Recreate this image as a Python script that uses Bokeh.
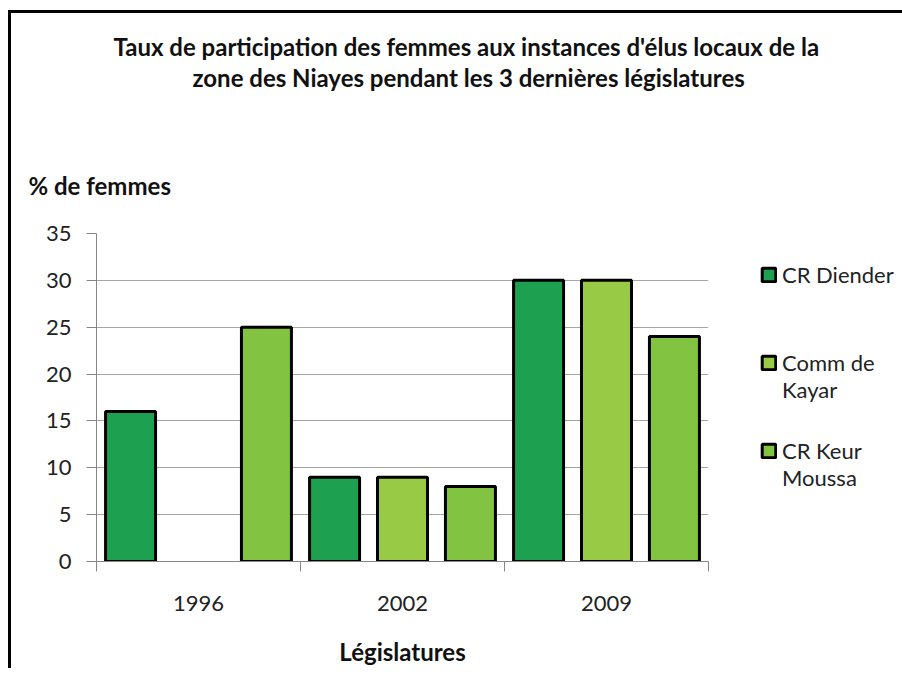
from bokeh.plotting import figure
from bokeh.models import (Range1d, LinearAxis, FixedTicker, Title, Legend, LegendItem,
                          ColumnDataSource)
from bokeh.embed import file_html
from bokeh.resources import INLINE

# ---------------- data ----------------
years = ["1996", "2002", "2009"]
series_names = ["CR Diender", "Comm de Kayar", "CR Keur Moussa"]
ZW = "\u200b"
legend_labels = [ZW + "\nCR Diender\n" + ZW, ZW + "\nComm de\nKayar", ZW + "\nCR Keur\nMoussa"]
cr_diender = [16, 9, 30]
comm_de_kayar = [float("nan"), 9, 30]
cr_keur_moussa = [25, 8, 24]
y_ticks = [0, 5, 10, 15, 20, 25, 30, 35]
title_line1 = "Taux de participation des femmes aux instances d'élus locaux de la"
title_line2 = "zone des Niayes pendant les 3 dernières législatures"
y_title = "\n% de femmes"
x_title = "Législatures"

colors = ["#1DA050", "#98CA45", "#83C342"]
FONT = "Lato"
TXT = "#222222"
GRID = "#A6A6A6"
AXIS = "#868686"

n = len(years)
centers = [i + 0.5 for i in range(n)]
offsets = [-0.333, 0.0, 0.333]
series_values = [cr_diender, comm_de_kayar, cr_keur_moussa]

p = figure(x_range=Range1d(0, n), y_range=Range1d(0, 35),
           frame_width=612, frame_height=328,
           min_border_left=85, min_border_right=183, min_border_top=220, min_border_bottom=107,
           output_backend="svg", toolbar_location=None, x_axis_location=None,
           background_fill_color="white", border_fill_color="white")
p.outline_line_color = None
p.styles = {"border-left": "3px solid black", "border-top": "3px solid black",
            "margin-top": "10px", "margin-left": "8px"}

# y axis
ya = p.yaxis[0]
ya.ticker = FixedTicker(ticks=y_ticks)
ya.major_tick_out = 10
ya.major_tick_in = 0
ya.minor_tick_line_color = None
ya.axis_line_color = AXIS
ya.major_tick_line_color = AXIS
ya.major_label_standoff = 15
ya.major_label_text_font = FONT
ya.major_label_text_font_size = "22px"
ya.major_label_text_color = TXT

p.ygrid.ticker = FixedTicker(ticks=y_ticks)
p.ygrid.grid_line_color = GRID
p.xgrid.visible = False

# x axis: boundary ticks + category labels
tick_axis = LinearAxis(ticker=FixedTicker(ticks=list(range(n + 1))),
                       major_tick_out=10, major_tick_in=0, minor_tick_line_color=None,
                       axis_line_color=AXIS, major_tick_line_color=AXIS,
                       major_label_text_font_size="0px", major_label_standoff=0)
p.add_layout(tick_axis, "below")
cat_axis = LinearAxis(ticker=FixedTicker(ticks=centers),
                      major_label_overrides={c: y for c, y in zip(centers, years)},
                      axis_line_color=None, major_tick_line_color=None,
                      minor_tick_line_color=None,
                      major_label_text_font=FONT, major_label_text_font_size="22px",
                      major_label_text_color=TXT, major_label_standoff=18,
                      axis_label=x_title, axis_label_text_font=FONT,
                      axis_label_text_font_size="24px", axis_label_text_font_style="bold",
                      axis_label_text_color="#111111", axis_label_standoff=23)
p.add_layout(cat_axis, "below")

# bars
bw = 0.245
renderers = []
for vals, off, col in zip(series_values, offsets, colors):
    src = ColumnDataSource(dict(x=[c + off for c in centers], top=vals))
    r = p.vbar(x="x", top="top", width=bw, source=src,
               fill_color=col, line_color="black", line_width=3)
    renderers.append(r)

legend = Legend(items=[LegendItem(label=lab, renderers=[r]) for lab, r in zip(legend_labels, renderers)],
                location=(52, 70), orientation="vertical",
                border_line_color=None, background_fill_alpha=0,
                padding=0, margin=0, spacing=7,
                glyph_width=17, glyph_height=17, label_standoff=5,
                label_text_font=FONT, label_text_font_size="22px", label_text_color=TXT)
p.add_layout(legend, "right")

# titles (stacked outward from the frame)
def mk_title(text, standoff, offset, lh):
    return Title(text=text, align="left", offset=offset, standoff=standoff,
                 text_font=FONT, text_font_size="24px", text_font_style="bold",
                 text_color="#111111", text_line_height=lh)

p.add_layout(mk_title(y_title, 66, -68, 1.545), "above")
p.add_layout(mk_title(title_line2, 0, 96, 1.236), "above")
p.add_layout(mk_title(title_line1, 0, 17, 1.236), "above")

open("out.html", "w").write(file_html(p, INLINE))
